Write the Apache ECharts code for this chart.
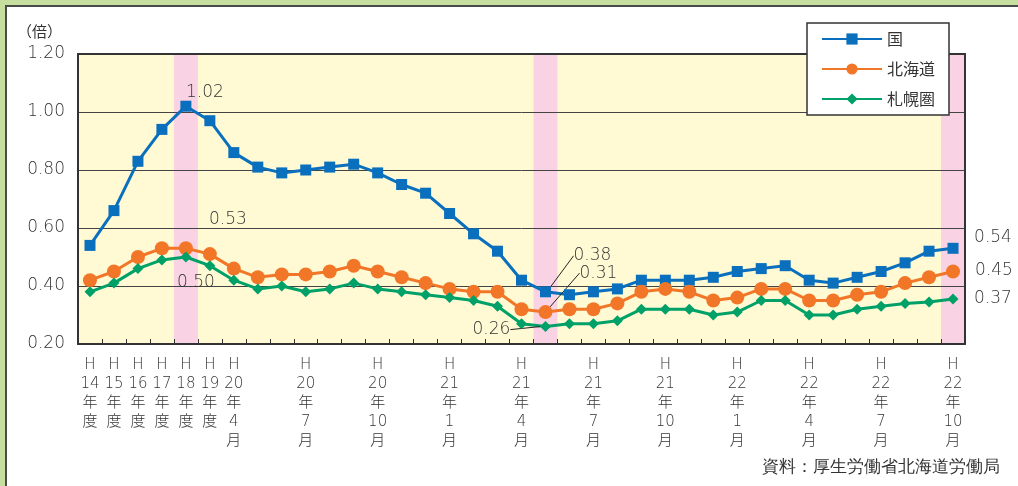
<!DOCTYPE html>
<html><head><meta charset="utf-8">
<script src="https://cdn.jsdelivr.net/npm/echarts@6/dist/echarts.min.js"></script>
<style>
html,body{margin:0;padding:0;background:#c6df9e;width:1018px;height:486px;overflow:hidden;}
#frame{position:absolute;left:5px;top:5px;width:1100px;height:600px;background:#fff;border-left:2px solid #4a4a4a;border-top:2px solid #4a4a4a;}
#chart{position:absolute;left:0;top:0;width:1018px;height:486px;}
</style></head>
<body><div id="frame"></div><div id="chart"></div>
<script>
// ---- data ----
const categories = ['H14年度','H15年度','H16年度','H17年度','H18年度','H19年度',
  'H20年4月','H20年5月','H20年6月','H20年7月','H20年8月','H20年9月','H20年10月','H20年11月','H20年12月',
  'H21年1月','H21年2月','H21年3月','H21年4月','H21年5月','H21年6月','H21年7月','H21年8月','H21年9月','H21年10月','H21年11月','H21年12月',
  'H22年1月','H22年2月','H22年3月','H22年4月','H22年5月','H22年6月','H22年7月','H22年8月','H22年9月','H22年10月'];
const seriesNames = ['国','北海道','札幌圏'];
const kuni = [0.54,0.66,0.83,0.94,1.02,0.97,
  0.86,0.81,0.79,0.80,0.81,0.82,0.79,0.75,0.72,
  0.65,0.58,0.52,0.42,0.38,0.37,0.38,0.39,0.42,0.42,0.42,0.43,
  0.45,0.46,0.47,0.42,0.41,0.43,0.45,0.48,0.52,0.53];
const hokkaido = [0.42,0.45,0.50,0.53,0.53,0.51,
  0.46,0.43,0.44,0.44,0.45,0.47,0.45,0.43,0.41,
  0.39,0.38,0.38,0.32,0.31,0.32,0.32,0.34,0.38,0.39,0.38,0.35,
  0.36,0.39,0.39,0.35,0.35,0.37,0.38,0.41,0.43,0.45];
const sapporo = [0.38,0.41,0.46,0.49,0.50,0.47,
  0.42,0.39,0.40,0.38,0.39,0.41,0.39,0.38,0.37,
  0.36,0.35,0.33,0.27,0.26,0.27,0.27,0.28,0.32,0.32,0.32,0.30,
  0.31,0.35,0.35,0.30,0.30,0.32,0.33,0.34,0.345,0.355];
// annotation texts by category index
const kuniLabels = {4:'1.02', 19:'0.38', 36:'0.54'};
const hokkaidoLabels = {4:'0.53', 19:'0.31', 36:'0.45'};
const sapporoLabels = {4:'0.50', 19:'0.26', 36:'0.37'};
const highlighted = ['H18年度','H21年5月','H22年10月'];
const yMin = 0.2, yMax = 1.2, yStep = 0.2;
const unitLabel = '（倍）';
const sourceText = '資料：厚生労働省北海道労働局';

// ---- styling ----
const FONT = '"Noto Sans CJK JP", "Noto Sans", sans-serif';
const NUMFONT = '"DejaVu Sans", "Noto Sans CJK JP", sans-serif';
const TXT = '#333';
const colors = ['#0a6fbd','#f27627','#00a168'];
const labelOffsets = [
  {4:[19,-14], 19:[47,-36], 36:[40,-11]},
  {4:[42,-29], 19:[53,-39], 36:[41,-1]},
  {4:[10,26], 19:[-54,3], 36:[40,0]}
];
const leaderIdx = [19];

function buildData(values, labels, offs){
  return values.map((v,i)=>{
    if(labels[i] === undefined) return v;
    const item = {value:v, label:{show:true, formatter:labels[i], position:'inside', offset:offs[i],
      color:TXT, fontSize:17, fontFamily:NUMFONT, fontWeight:300, align:'center', verticalAlign:'middle'}};
    if(leaderIdx.includes(i)) item.labelLine = {show:true, lineStyle:{color:'#222', width:1}};
    return item;
  });
}

const chart = echarts.init(document.getElementById('chart'), null, {renderer:'canvas'});
const commonLine = (name, values, labels, offs, color, symbol, size) => ({
  name, type:'line', data: buildData(values, labels, offs), z:3,
  symbol, symbolSize:size, showSymbol:true,
  lineStyle:{color, width:3}, itemStyle:{color},
  label:{show:false}, labelLine:{show:false, lineStyle:{color:'#222', width:1}},
  emphasis:{disabled:true}, animation:false
});

const option = {
  animation:false,
  textStyle:{fontFamily:FONT},
  title:{text:unitLabel, left:12, top:19, textStyle:{fontSize:15, fontWeight:'normal', color:TXT, fontFamily:FONT}},
  legend:{
    data:seriesNames, orient:'vertical', left:807, top:23,
    padding:[8,14,8,14], itemGap:14, itemWidth:60, itemHeight:14,
    backgroundColor:'#fff', borderColor:'#333', borderWidth:1.5,
    textStyle:{fontSize:16, color:TXT, fontFamily:FONT}, z:10
  },
  grid:{left:78, right:53, top:54, bottom:142, show:true, backgroundColor:'#fffad4', borderWidth:0, containLabel:false},
  xAxis:[{
    type:'category', data:categories, boundaryGap:true, z:2,
    axisLine:{show:true, lineStyle:{color:'#333', width:2}},
    axisTick:{show:true, inside:true, length:5, interval:0, lineStyle:{color:'#333', width:1}},
    axisLabel:{
      interval:(i)=> i<=6 || (i-6)%3===0,
      color:TXT, fontSize:15, lineHeight:19, margin:12, fontFamily:NUMFONT, fontWeight:300,
      formatter:(c)=>{
        const m = c.match(/^H(\d+)年(?:(度)|(\d+)月)$/);
        return m[2] ? ['H',m[1],'年','度'].join('\n') : ['H',m[1],'年',m[3],'月'].join('\n');
      }
    },
    splitLine:{show:false}
  },{
    type:'category', data:categories, position:'top', z:2,
    axisLine:{show:true, lineStyle:{color:'#333', width:2}},
    axisTick:{show:false}, axisLabel:{show:false}, splitLine:{show:false}
  }],
  yAxis:[{
    type:'value', min:yMin, max:yMax, interval:yStep, z:2,
    axisLine:{show:true, lineStyle:{color:'#333', width:2}},
    axisTick:{show:false},
    axisLabel:{formatter:(v)=>v.toFixed(2), color:TXT, fontSize:17, margin:13, fontFamily:NUMFONT, fontWeight:300},
    splitLine:{show:true, lineStyle:{color:'#444', width:1}}
  },{
    type:'value', min:yMin, max:yMax, interval:yStep, position:'right', z:2,
    axisLine:{show:true, lineStyle:{color:'#333', width:2}},
    axisTick:{show:false}, axisLabel:{show:false}, splitLine:{show:false}
  }],
  series:[
    {name:'band', type:'bar', z:1, silent:true, barWidth:'100%', barGap:'-100%',
     data:categories.map(c=> highlighted.includes(c) ? yMax : '-'),
     itemStyle:{color:'#f9d3e4'}, emphasis:{disabled:true}, animation:false},
    commonLine('国', kuni, kuniLabels, labelOffsets[0], colors[0], 'rect', 11),
    commonLine('北海道', hokkaido, hokkaidoLabels, labelOffsets[1], colors[1], 'circle', 14),
    commonLine('札幌圏', sapporo, sapporoLabels, labelOffsets[2], colors[2], 'diamond', 11)
  ],
  graphic:[{type:'text', right:18, top:459, style:{text:sourceText, fontSize:17, fill:TXT, font:'17px '+FONT}}]
};
chart.setOption(option);
</script>
</body></html>
